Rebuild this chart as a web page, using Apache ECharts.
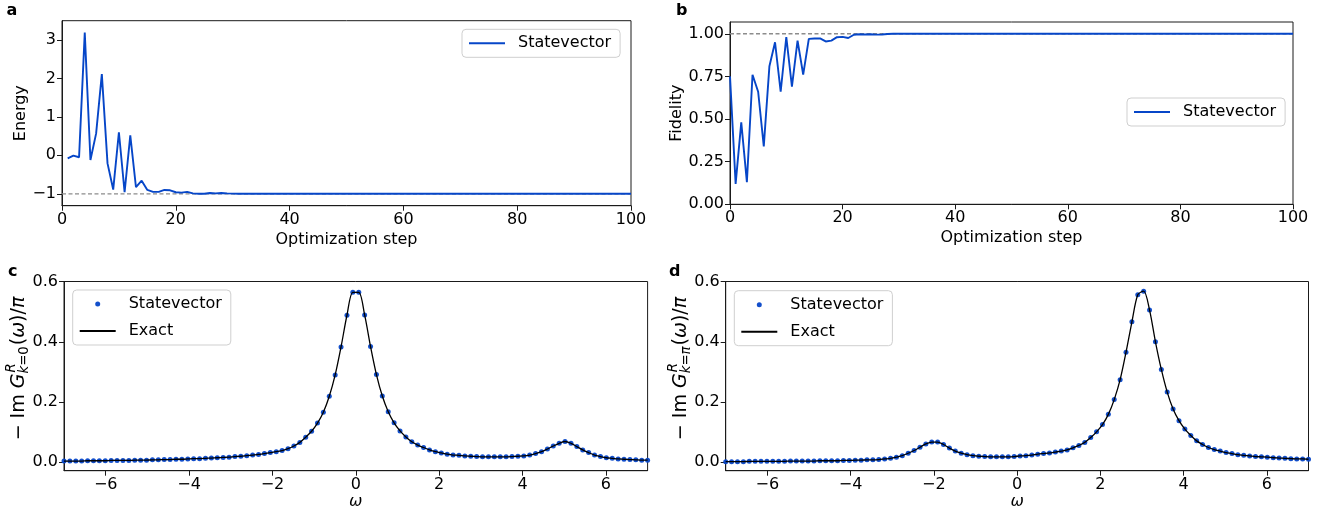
<!DOCTYPE html>
<html><head><meta charset="utf-8">
<script src="https://cdn.jsdelivr.net/npm/echarts@6/dist/echarts.min.js"></script>
<style>html,body{margin:0;padding:0;background:#fff}#chart{width:1326px;height:515px}</style>
</head><body><div id="chart"></div>
<script>
// ---------------- data ----------------
const stepsEnergy = [1,2,3,4,5,6,7,8,9,10,11,12,13,14,15,16,17,18,19,20,21,22,23,24,25,26,27,28,29,30,31,32,33,34,35,36,37,38,39,40,41,42,43,44,45,46,47,48,49,50,51,52,53,54,55,56,57,58,59,60,61,62,63,64,65,66,67,68,69,70,71,72,73,74,75,76,77,78,79,80,81,82,83,84,85,86,87,88,89,90,91,92,93,94,95,96,97,98,99,100];
const energy = [-0.08,-0.01,-0.05,3.19,-0.12,0.57,2.11,-0.21,-0.89,0.60,
 -0.96,0.52,-0.83,-0.66,-0.90,-0.95,-0.95,-0.90,-0.91,-0.96,
 -0.97,-0.95,-0.99,-1.00,-1.00,-0.98,-0.99,-0.98,-0.99,-0.995,
 -1,-1,-1,-1,-1,-1,-1,-1,-1,-1,-1,-1,-1,-1,-1,-1,-1,-1,-1,-1,
 -1,-1,-1,-1,-1,-1,-1,-1,-1,-1,-1,-1,-1,-1,-1,-1,-1,-1,-1,-1,
 -1,-1,-1,-1,-1,-1,-1,-1,-1,-1,-1,-1,-1,-1,-1,-1,-1,-1,-1,-1,
 -1,-1,-1,-1,-1,-1,-1,-1,-1,-1];
const stepsFidelity = [0,1,2,3,4,5,6,7,8,9,10,11,12,13,14,15,16,17,18,19,20,21,22,23,24,25,26,27,28,29,30,31,32,33,34,35,36,37,38,39,40,41,42,43,44,45,46,47,48,49,50,51,52,53,54,55,56,57,58,59,60,61,62,63,64,65,66,67,68,69,70,71,72,73,74,75,76,77,78,79,80,81,82,83,84,85,86,87,88,89,90,91,92,93,94,95,96,97,98,99,100];
const fidelity = [0.75,0.12,0.48,0.13,0.76,0.66,0.34,0.81,0.95,0.66,
 0.98,0.69,0.96,0.76,0.97,0.972,0.973,0.955,0.96,0.98,
 0.982,0.975,0.994,0.997,0.996,0.997,0.995,0.996,0.999,1,
 1,1,1,1,1,1,1,1,1,1,1,1,1,1,1,1,1,1,1,1,
 1,1,1,1,1,1,1,1,1,1,1,1,1,1,1,1,1,1,1,1,
 1,1,1,1,1,1,1,1,1,1,1,1,1,1,1,1,1,1,1,1,
 1,1,1,1,1,1,1,1,1,1,1];
const energyExact = -1;
const fidelityExact = 1;

const omega = [-7.000,-6.859,-6.717,-6.576,-6.434,-6.293,-6.152,-6.010,-5.869,-5.727,
 -5.586,-5.444,-5.303,-5.162,-5.020,-4.879,-4.737,-4.596,-4.455,-4.313,
 -4.172,-4.030,-3.889,-3.747,-3.606,-3.465,-3.323,-3.182,-3.040,-2.899,
 -2.758,-2.616,-2.475,-2.333,-2.192,-2.051,-1.909,-1.768,-1.626,-1.485,
 -1.343,-1.202,-1.061,-0.919,-0.778,-0.636,-0.495,-0.354,-0.212,-0.071,
 0.071,0.212,0.354,0.495,0.636,0.778,0.919,1.061,1.202,1.343,
 1.485,1.626,1.768,1.909,2.051,2.192,2.333,2.475,2.616,2.758,
 2.899,3.040,3.182,3.323,3.465,3.606,3.747,3.889,4.030,4.172,
 4.313,4.455,4.596,4.737,4.879,5.020,5.162,5.303,5.444,5.586,
 5.727,5.869,6.010,6.152,6.293,6.434,6.576,6.717,6.859,7.000];
const spectrumK0 = [0.004,0.004,0.004,0.004,0.005,0.005,0.005,0.005,0.006,0.006,
 0.006,0.006,0.007,0.007,0.007,0.008,0.008,0.009,0.009,0.010,
 0.010,0.011,0.012,0.012,0.013,0.014,0.015,0.016,0.017,0.019,
 0.020,0.022,0.024,0.026,0.029,0.032,0.035,0.039,0.045,0.054,
 0.066,0.083,0.103,0.130,0.166,0.219,0.290,0.383,0.488,0.564,
 0.564,0.489,0.384,0.291,0.220,0.168,0.131,0.104,0.084,0.068,
 0.057,0.049,0.041,0.035,0.031,0.027,0.024,0.023,0.021,0.020,
 0.019,0.018,0.018,0.018,0.018,0.018,0.019,0.020,0.021,0.024,
 0.029,0.035,0.044,0.054,0.063,0.069,0.063,0.052,0.041,0.032,
 0.024,0.019,0.015,0.013,0.011,0.010,0.009,0.008,0.007,0.007];
const spectrumKpi = [0.002,0.002,0.002,0.002,0.003,0.003,0.003,0.003,0.003,0.003,
 0.003,0.004,0.004,0.004,0.004,0.004,0.005,0.005,0.005,0.005,
 0.006,0.006,0.007,0.007,0.008,0.008,0.009,0.011,0.013,0.017,
 0.022,0.030,0.039,0.050,0.061,0.067,0.067,0.059,0.047,0.037,
 0.030,0.025,0.022,0.020,0.019,0.018,0.018,0.018,0.018,0.019,
 0.021,0.022,0.024,0.027,0.029,0.031,0.034,0.037,0.041,0.048,
 0.056,0.066,0.082,0.101,0.125,0.159,0.208,0.274,0.365,0.466,
 0.556,0.568,0.505,0.400,0.308,0.233,0.177,0.138,0.110,0.089,
 0.071,0.059,0.049,0.042,0.037,0.032,0.029,0.025,0.023,0.021,
 0.019,0.018,0.017,0.015,0.014,0.013,0.012,0.011,0.011,0.010];

const ticksStep = [0,20,40,60,80,100];
const ticksEnergy = [-1,0,1,2,3];
const ticksFidelity = [0,0.25,0.5,0.75,1];
const ticksOmega = [-6,-4,-2,0,2,4,6];
const ticksSpectrum = [0,0.2,0.4,0.6];
const legendLabels = {svA:'Statevector', svB:'Statevector', svC:'Statevector', exC:'Exact', svD:'Statevector', exD:'Exact'};

// ---------------- styles ----------------
const FONT = 'DejaVu Sans';
const BLUE = '#0646c8';
const AX = '#1a1a1a';
const minus = s => String(s).replace('-', '\u2212');

function axis(kind, gi, min, max, ticks, fmt, name, nameGap, nameStyle) {
  return {
    type: 'value', gridIndex: gi, min: min, max: max,
    axisLine: {show: true, onZero: false, lineStyle: {color: AX, width: 1}},
    axisTick: {show: true, inside: false, length: 5, lineStyle: {color: AX, width: 1}, customValues: ticks},
    axisLabel: {customValues: ticks, formatter: fmt, fontSize: 16, fontFamily: FONT, color: '#000', margin: 6,
      showMinLabel: true, showMaxLabel: true},
    splitLine: {show: false},
    name: name || '', nameLocation: 'middle', nameGap: nameGap || 0,
    nameTextStyle: Object.assign({fontSize: 16, fontFamily: FONT, color: '#000'}, nameStyle || {})
  };
}
const fmtInt = v => minus(v);
const fmt2 = v => v.toFixed(2);
const fmt1 = v => v.toFixed(1);

const gridBase = {show: true, borderColor: AX, borderWidth: 1, backgroundColor: 'transparent', containLabel: false};
const grids = [
  Object.assign({left: 62, top: 20.7, width: 569, height: 185}, gridBase),
  Object.assign({left: 730, top: 22, width: 563, height: 182.3}, gridBase),
  Object.assign({left: 64, top: 281.5, width: 583.6, height: 189.2}, gridBase),
  Object.assign({left: 725.7, top: 281.5, width: 582.8, height: 189.2}, gridBase)
];

const xAxes = [
  axis('x', 0, 0, 100, ticksStep, fmtInt, 'Optimization step', 26),
  axis('x', 1, 0, 100, ticksStep, fmtInt, 'Optimization step', 26),
  axis('x', 2, -7, 7, ticksOmega, fmtInt, '\u03c9', 22, {fontStyle: 'italic'}),
  axis('x', 3, -7, 7, ticksOmega, fmtInt, '\u03c9', 22, {fontStyle: 'italic'})
];
const yAxes = [
  axis('y', 0, -1.31, 3.5, ticksEnergy, fmtInt, 'Energy', 30),
  axis('y', 1, 0, 1.069, ticksFidelity, fmt2, 'Fidelity', 45),
  axis('y', 2, -0.028, 0.6, ticksSpectrum, fmt1, '', 0),
  axis('y', 3, -0.028, 0.6, ticksSpectrum, fmt1, '', 0)
];

const zip = (xs, ys) => xs.map((x, i) => [x, ys[i]]);
const dashStyle = {color: '#8c8c8c', width: 1.3, type: [4, 2.5]};

const series = [
  {type: 'line', xAxisIndex: 0, yAxisIndex: 0, silent: true, symbol: 'none', z: 1,
   data: [[0, energyExact], [100, energyExact]], lineStyle: dashStyle},
  {name: 'svA', type: 'line', xAxisIndex: 0, yAxisIndex: 0, symbol: 'none', z: 2,
   data: zip(stepsEnergy, energy), lineStyle: {color: BLUE, width: 1.9}, itemStyle: {color: BLUE}},
  {type: 'line', xAxisIndex: 1, yAxisIndex: 1, silent: true, symbol: 'none', z: 1,
   data: [[0, fidelityExact], [100, fidelityExact]], lineStyle: dashStyle},
  {name: 'svB', type: 'line', xAxisIndex: 1, yAxisIndex: 1, symbol: 'none', z: 2,
   data: zip(stepsFidelity, fidelity), lineStyle: {color: BLUE, width: 1.9}, itemStyle: {color: BLUE}},
  {name: 'svC', type: 'scatter', xAxisIndex: 2, yAxisIndex: 2, symbol: 'circle', symbolSize: 5, z: 2,
   data: zip(omega, spectrumK0), itemStyle: {color: BLUE, opacity: 0.95}},
  {name: 'exC', type: 'line', xAxisIndex: 2, yAxisIndex: 2, symbol: 'none', smooth: 0.3, z: 3,
   data: zip(omega, spectrumK0), lineStyle: {color: '#000', width: 1.3}, itemStyle: {color: '#000'}},
  {name: 'svD', type: 'scatter', xAxisIndex: 3, yAxisIndex: 3, symbol: 'circle', symbolSize: 5, z: 2,
   data: zip(omega, spectrumKpi), itemStyle: {color: BLUE, opacity: 0.95}},
  {name: 'exD', type: 'line', xAxisIndex: 3, yAxisIndex: 3, symbol: 'none', smooth: 0.3, z: 3,
   data: zip(omega, spectrumKpi), lineStyle: {color: '#000', width: 1.3}, itemStyle: {color: '#000'}}
];

const hideSym = {opacity: 0, borderWidth: 0};
function legend(items, pos, iconH) {
  return Object.assign({
    data: items, orient: 'vertical', selectedMode: false,
    formatter: n => legendLabels[n],
    itemWidth: 36, itemHeight: iconH, itemGap: 11,
    padding: [6, 9, 6, 6],
    borderColor: '#cfcfcf', borderWidth: 1, borderRadius: 4,
    backgroundColor: 'rgba(255,255,255,0.8)',
    textStyle: {fontSize: 16, fontFamily: FONT, color: '#000', padding: [0, 0, 0, 8]}
  }, pos);
}
const legends = [
  legend([{name: 'svA', itemStyle: hideSym}], {left: 462, top: 29.3}, 14),
  legend([{name: 'svB', itemStyle: hideSym}], {left: 1127, top: 98}, 14),
  legend(['svC', {name: 'exC', itemStyle: hideSym}], {left: 72.7, top: 290}, 5),
  legend(['svD', {name: 'exD', itemStyle: hideSym}], {left: 734.3, top: 290.7}, 5)
];

// ---------------- math-like y labels (c, d) ----------------
const ctx = document.createElement('canvas').getContext('2d');
function tw(t, size, style) { ctx.font = (style === 'italic' ? 'italic ' : '') + size + 'px "' + FONT + '"'; return ctx.measureText(t).width; }
function specLabel(cx, cy, subTail, subTailItalic) {
  const S = 19, s = 13.3;
  const pieces = [];
  let x = 0;
  const add = (t, size, style, dy) => { pieces.push({t, size, style, x, dy}); x += tw(t, size, style); };
  add('\u2212 Im ', S, 'normal', 0);
  add('G', S, 'italic', 0);
  const x0 = x;
  pieces.push({t: 'R', size: s, style: 'italic', x: x0 + 1, dy: -7.5});
  const supW = tw('R', s, 'italic') + 1;
  let xs = x0;
  [['k', 'italic'], ['=', 'normal'], [subTail, subTailItalic ? 'italic' : 'normal']].forEach(p => {
    pieces.push({t: p[0], size: s, style: p[1], x: xs, dy: 5.5});
    xs += tw(p[0], s, p[1]);
  });
  x = Math.max(x0 + supW, xs) + 1;
  add('(', S, 'normal', 0);
  add('\u03c9', S, 'italic', 0);
  add(')/', S, 'normal', 0);
  add('\u03c0', S, 'italic', 0);
  const L = x;
  return {
    type: 'group', x: cx, y: cy + L / 2, rotation: Math.PI / 2, silent: true,
    children: pieces.map(p => ({type: 'text', x: p.x, y: p.dy,
      style: {text: p.t, fontSize: p.size, fontFamily: FONT, fontStyle: p.style, fill: '#000', align: 'left', verticalAlign: 'middle'}}))
  };
}
const panelLetter = (t, x, y) => ({type: 'text', x: x, y: y, silent: true,
  style: {text: t, fontSize: 16, fontWeight: 'bold', fontFamily: FONT, fill: '#000', align: 'left', verticalAlign: 'middle'}});

const chart = echarts.init(document.getElementById('chart'), null, {renderer: 'canvas'});
chart.setOption({
  animation: false,
  backgroundColor: '#fff',
  grid: grids, xAxis: xAxes, yAxis: yAxes, series: series, legend: legends,
  graphic: [
    panelLetter('a', 6.5, 10.5),
    panelLetter('b', 676, 10.5),
    panelLetter('c', 8, 271.5),
    panelLetter('d', 669, 271.5),
    specLabel(19, 368.5, '0', false),
    specLabel(681, 368.5, '\u03c0', true)
  ]
});
</script></body></html>
